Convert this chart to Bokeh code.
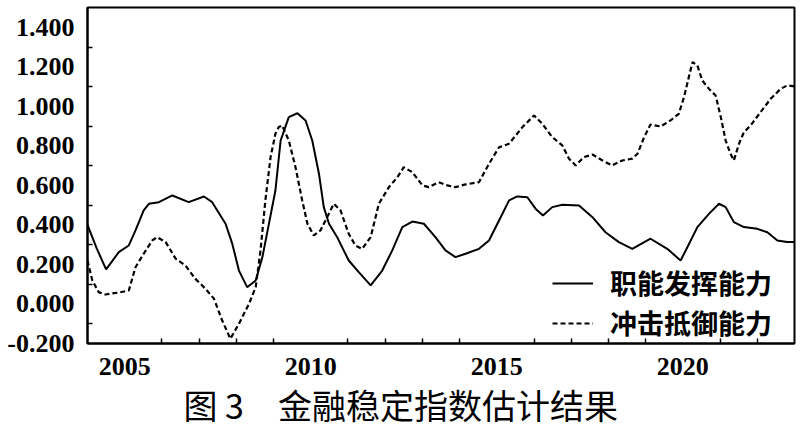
from bokeh.plotting import figure
from bokeh.models import FixedTicker, Range1d, Legend, LegendItem, Title
from bokeh.embed import file_html
from bokeh.resources import INLINE

# ---- data ----
func_year = [2004.00, 2004.25, 2004.50, 2004.84, 2005.11, 2005.29, 2005.51, 2005.65, 2005.92,
             2006.28, 2006.72, 2007.13, 2007.35, 2007.71, 2007.89, 2008.07, 2008.29, 2008.52,
             2008.70, 2008.87, 2009.05, 2009.19, 2009.41, 2009.64, 2009.86, 2010.04, 2010.22,
             2010.35, 2010.49, 2010.71, 2011.02, 2011.29, 2011.61, 2011.92, 2012.19, 2012.46,
             2012.73, 2013.04, 2013.35, 2013.62, 2013.89, 2014.16, 2014.52, 2014.79, 2015.06,
             2015.33, 2015.55, 2015.82, 2016.04, 2016.24, 2016.49, 2016.76, 2017.21, 2017.57,
             2017.92, 2018.28, 2018.64, 2019.13, 2019.58, 2019.94, 2020.12, 2020.39, 2020.70,
             2020.97, 2021.15, 2021.37, 2021.64, 2022.00, 2022.27, 2022.54, 2022.80, 2023.00]
func_val = [0.400, 0.280, 0.175, 0.262, 0.296, 0.372, 0.473, 0.507, 0.515,
            0.549, 0.515, 0.544, 0.515, 0.406, 0.305, 0.169, 0.085, 0.119,
            0.237, 0.400, 0.574, 0.827, 0.945, 0.965, 0.928, 0.827, 0.659,
            0.490, 0.406, 0.338, 0.220, 0.161, 0.094, 0.169, 0.271, 0.389,
            0.417, 0.406, 0.338, 0.271, 0.237, 0.254, 0.279, 0.321, 0.422,
            0.524, 0.544, 0.540, 0.482, 0.448, 0.490, 0.502, 0.498, 0.439,
            0.363, 0.313, 0.279, 0.330, 0.279, 0.220, 0.287, 0.389, 0.456,
            0.507, 0.490, 0.414, 0.389, 0.380, 0.363, 0.321, 0.313, 0.313]

shock_year = [2004.00, 2004.13, 2004.30, 2004.48, 2004.84, 2005.11, 2005.29, 2005.51, 2005.74,
              2005.87, 2006.10, 2006.37, 2006.63, 2006.90, 2007.17, 2007.40, 2007.62, 2007.84,
              2008.07, 2008.34, 2008.52, 2008.65, 2008.78, 2008.92, 2009.05, 2009.14, 2009.23,
              2009.41, 2009.59, 2009.77, 2009.91, 2010.08, 2010.26, 2010.44, 2010.62, 2010.80,
              2011.02, 2011.20, 2011.38, 2011.61, 2011.83, 2012.10, 2012.33, 2012.50, 2012.73,
              2013.00, 2013.17, 2013.44, 2013.67, 2013.89, 2014.16, 2014.52, 2014.79, 2015.06,
              2015.33, 2015.69, 2016.00, 2016.22, 2016.49, 2016.76, 2016.94, 2017.12, 2017.34,
              2017.57, 2017.84, 2018.10, 2018.37, 2018.64, 2018.78, 2018.96, 2019.13, 2019.40,
              2019.67, 2019.89, 2020.03, 2020.16, 2020.26, 2020.39, 2020.52, 2020.70, 2020.88,
              2021.02, 2021.15, 2021.28, 2021.37, 2021.51, 2021.64, 2021.82, 2022.09, 2022.36,
              2022.63, 2022.81, 2023.00]
shock_val = [0.220, 0.119, 0.060, 0.048, 0.058, 0.068, 0.186, 0.254, 0.321,
             0.338, 0.313, 0.229, 0.195, 0.127, 0.077, 0.026, -0.084, -0.176,
             -0.100, 0.001, 0.085, 0.271, 0.524, 0.743, 0.861, 0.895, 0.903,
             0.827, 0.692, 0.524, 0.406, 0.347, 0.372, 0.439, 0.507, 0.473,
             0.355, 0.296, 0.279, 0.338, 0.507, 0.591, 0.642, 0.692, 0.667,
             0.600, 0.591, 0.616, 0.600, 0.591, 0.605, 0.616, 0.709, 0.793,
             0.811, 0.895, 0.954, 0.912, 0.844, 0.802, 0.735, 0.701, 0.743,
             0.756, 0.726, 0.701, 0.726, 0.735, 0.760, 0.844, 0.908, 0.898,
             0.929, 0.962, 1.046, 1.148, 1.224, 1.207, 1.131, 1.089, 1.055,
             0.945, 0.827, 0.760, 0.726, 0.811, 0.869, 0.903, 0.971, 1.038,
             1.089, 1.106, 1.101]

series_names = ["职能发挥能力", "冲击抵御能力"]
y_label_vals = [-0.2, 0.0, 0.2, 0.4, 0.6, 0.8, 1.0, 1.2, 1.4]
y_tick_marks = [-0.1, 0.1, 0.3, 0.5, 0.7, 0.9, 1.1, 1.3]
x_label_vals = [2005, 2010, 2015, 2020]
x_tick_marks = [y for y in range(2005, 2023) if y % 5 != 0]
caption = "图 3\u3000金融稳定指数估计结果"

p = figure(width=797, height=435, output_backend="svg", toolbar_location=None,
           x_range=Range1d(2004.0, 2023.0), y_range=Range1d(-0.2, 1.5),
           min_border_left=87, min_border_right=3, min_border_top=7,
           min_border_bottom=92)
p.background_fill_color = "white"
p.border_fill_color = "white"
p.grid.visible = False
p.outline_line_color = "black"
p.outline_line_width = 2

r1 = p.line(func_year, func_val, line_color="black", line_width=2)
r2 = p.line(shock_year, shock_val, line_color="black", line_width=2.2, line_dash="5 3")

for ax, major, minor in ((p.xaxis[0], x_label_vals, x_tick_marks),
                         (p.yaxis[0], y_label_vals, y_tick_marks)):
    ax.ticker = FixedTicker(ticks=major, minor_ticks=minor)
    ax.axis_line_width = 2
    ax.axis_line_color = "black"
    ax.major_tick_line_color = None
    ax.major_tick_in = 0
    ax.major_tick_out = 0
    ax.minor_tick_in = 5
    ax.minor_tick_out = 0
    ax.minor_tick_line_width = 1.5
    ax.minor_tick_line_color = "black"
    ax.major_label_text_font = "Liberation Serif"
    ax.major_label_text_font_style = "bold"
    ax.major_label_text_font_size = "26px"
    ax.major_label_text_color = "black"

p.yaxis[0].major_label_standoff = 13
p.xaxis[0].major_label_standoff = 14
p.yaxis[0].major_label_overrides = {v: f"{v:.3f}" for v in y_label_vals}
p.xaxis[0].major_label_overrides = {v: str(v) for v in x_label_vals}

def make_legend(name, renderer, y_off):
    lg = Legend(items=[LegendItem(label=name, renderers=[renderer])],
                location=(465, y_off), padding=0, margin=0, spacing=0,
                glyph_width=41, glyph_height=26, label_height=26,
                label_standoff=17, border_line_color=None,
                background_fill_alpha=0)
    lg.label_text_font = "Noto Sans CJK SC"
    lg.label_text_font_style = "bold"
    lg.label_text_font_size = "27px"
    lg.label_text_color = "black"
    return lg

p.add_layout(make_legend(series_names[0], r1, 41), "center")
p.add_layout(make_legend(series_names[1], r2, 1), "center")

t = Title(text=caption, align="left", offset=96, standoff=0,
          text_font="Noto Sans CJK SC", text_font_style="normal",
          text_font_size="34px", text_color="black")
p.add_layout(t, "below")

open("out.html", "w").write(file_html(p, INLINE))
